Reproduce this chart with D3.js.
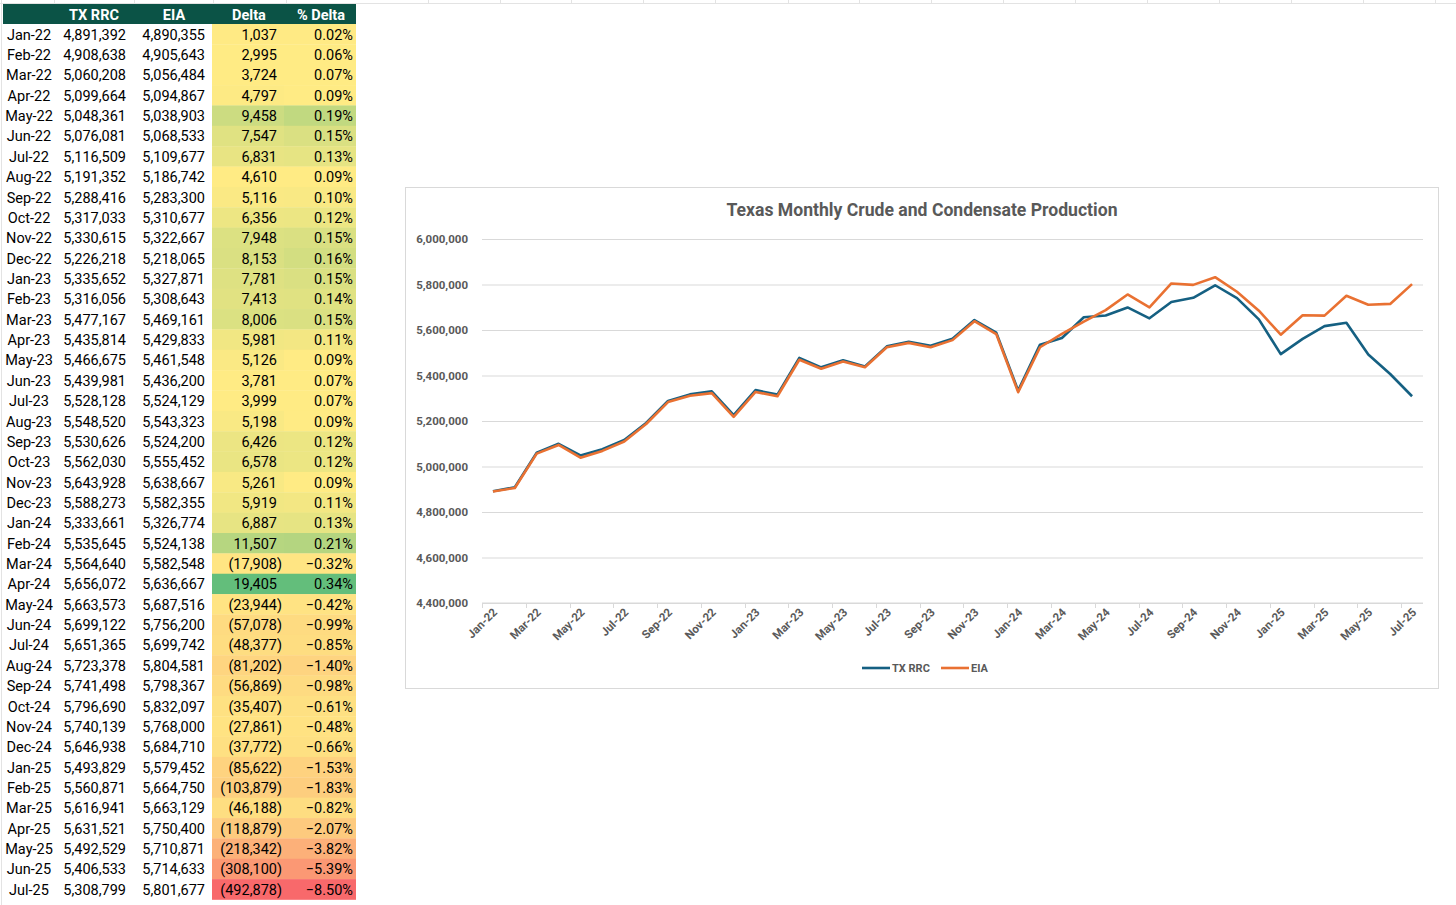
<!DOCTYPE html>
<html lang="en">
  <head>
    <meta charset="UTF-8" />
    <title>Texas Monthly Crude and Condensate Production</title>
    <script src="https://d3js.org/d3.v7.min.js"></script>
    <style>
      body { margin: 0; background: #fff; }
      svg { display: block; font-family: Roboto, "Liberation Sans", sans-serif; }
    </style>
  </head>
  <body>
    <svg id="sheet" width="1456" height="905"></svg>

    <script>
      const months = [
        "Jan-22","Feb-22","Mar-22","Apr-22","May-22","Jun-22","Jul-22","Aug-22","Sep-22","Oct-22","Nov-22","Dec-22",
        "Jan-23","Feb-23","Mar-23","Apr-23","May-23","Jun-23","Jul-23","Aug-23","Sep-23","Oct-23","Nov-23","Dec-23",
        "Jan-24","Feb-24","Mar-24","Apr-24","May-24","Jun-24","Jul-24","Aug-24","Sep-24","Oct-24","Nov-24","Dec-24",
        "Jan-25","Feb-25","Mar-25","Apr-25","May-25","Jun-25","Jul-25"
      ];
      const txRrc = [
        4891392, 4908638, 5060208, 5099664, 5048361, 5076081, 5116509, 5191352, 5288416, 5317033, 5330615, 5226218,
        5335652, 5316056, 5477167, 5435814, 5466675, 5439981, 5528128, 5548520, 5530626, 5562030, 5643928, 5588273,
        5333661, 5535645, 5564640, 5656072, 5663573, 5699122, 5651365, 5723378, 5741498, 5796690, 5740139, 5646938,
        5493829, 5560871, 5616941, 5631521, 5492529, 5406533, 5308799
      ];
      const eia = [
        4890355, 4905643, 5056484, 5094867, 5038903, 5068533, 5109677, 5186742, 5283300, 5310677, 5322667, 5218065,
        5327871, 5308643, 5469161, 5429833, 5461548, 5436200, 5524129, 5543323, 5524200, 5555452, 5638667, 5582355,
        5326774, 5524138, 5582548, 5636667, 5687516, 5756200, 5699742, 5804581, 5798367, 5832097, 5768000, 5684710,
        5579452, 5664750, 5663129, 5750400, 5710871, 5714633, 5801677
      ];
      const delta = [
        1037, 2995, 3724, 4797, 9458, 7547, 6831, 4610, 5116, 6356, 7948, 8153,
        7781, 7413, 8006, 5981, 5126, 3781, 3999, 5198, 6426, 6578, 5261, 5919,
        6887, 11507, -17908, 19405, -23944, -57078, -48377, -81202, -56869, -35407, -27861, -37772,
        -85622, -103879, -46188, -118879, -218342, -308100, -492878
      ];
      const pctDelta = [
        0.02, 0.06, 0.07, 0.09, 0.19, 0.15, 0.13, 0.09, 0.10, 0.12, 0.15, 0.16,
        0.15, 0.14, 0.15, 0.11, 0.09, 0.07, 0.07, 0.09, 0.12, 0.12, 0.09, 0.11,
        0.13, 0.21, -0.32, 0.34, -0.42, -0.99, -0.85, -1.40, -0.98, -0.61, -0.48, -0.66,
        -1.53, -1.83, -0.82, -2.07, -3.82, -5.39, -8.50
      ];
      const headers = ["", "TX RRC", "EIA", "Delta", "% Delta"];
      const seriesNames = ["TX RRC", "EIA"];
      const yTicks = [4400000, 4600000, 4800000, 5000000, 5200000, 5400000, 5600000, 5800000, 6000000];

      const svg = d3.select("#sheet");
      const fmt = d3.format(",");

      // faint sheet gridlines peeking at the top
      const sheetCols = [54, 134, 213, 286, 428, 500, 571, 643, 715, 788, 859, 931, 1003, 1075, 1147, 1219, 1291, 1363, 1435];
      svg.append("line").attr("x1", 0).attr("x2", 1456).attr("y1", 3.5).attr("y2", 3.5)
        .attr("stroke", "#e3e3e3");
      svg.selectAll(".sheetcol").data(sheetCols).enter().append("line")
        .attr("x1", (d) => d + 0.5).attr("x2", (d) => d + 0.5)
        .attr("y1", 0).attr("y2", 4).attr("stroke", "#e3e3e3");
      svg.append("line").attr("x1", 1.5).attr("x2", 1.5).attr("y1", 0).attr("y2", 905)
        .attr("stroke", "#e3e3e3");

      // ---------- table ----------
      const rowY = d3.scaleBand().domain(months).range([24, 899.5]);
      const rows = months.map((m, i) => ({ m, rrc: txRrc[i], eia: eia[i], d: delta[i], p: pctDelta[i] }));

      const excelScale = (vals) =>
        d3.scaleLinear()
          .domain([d3.min(vals), d3.median(vals), d3.max(vals)])
          .range(["#F8696B", "#FFEB84", "#63BE7B"]);
      const dColor = excelScale(delta);
      const pColor = excelScale(pctDelta);

      svg.append("rect").attr("x", 3).attr("y", 4).attr("width", 353).attr("height", 20)
        .attr("fill", "#0B5346");

      const headerX = [29, 94, 174, 249, 321];
      svg.selectAll(".hdr").data(headers).enter().append("text")
        .attr("x", (d, i) => headerX[i]).attr("y", 19.5)
        .attr("text-anchor", "middle").attr("fill", "#fff")
        .attr("font-size", 14.5).attr("font-weight", 700)
        .text((d) => d);

      const tr = svg.selectAll(".row").data(rows).enter().append("g")
        .attr("transform", (d) => `translate(0,${rowY(d.m)})`);

      tr.append("rect").attr("x", 212).attr("width", 72).attr("height", rowY.bandwidth() + 0.3)
        .attr("fill", (d) => dColor(d.d));
      tr.append("rect").attr("x", 284).attr("width", 72).attr("height", rowY.bandwidth() + 0.3)
        .attr("fill", (d) => pColor(d.p));

      const ty = rowY.bandwidth() / 2 + 5.5;
      tr.append("text").attr("x", 29).attr("y", ty).attr("text-anchor", "middle")
        .text((d) => d.m);
      tr.append("text").attr("x", 126).attr("y", ty).attr("text-anchor", "end")
        .text((d) => fmt(d.rrc));
      tr.append("text").attr("x", 205).attr("y", ty).attr("text-anchor", "end")
        .text((d) => fmt(d.eia));
      tr.append("text").attr("x", (d) => (d.d < 0 ? 282 : 277)).attr("y", ty).attr("text-anchor", "end")
        .text((d) => (d.d < 0 ? `(${fmt(-d.d)})` : fmt(d.d)));
      tr.append("text").attr("x", 353).attr("y", ty).attr("text-anchor", "end")
        .text((d) => d3.format(".2f")(d.p) + "%");
      tr.selectAll("text").attr("font-size", 14.5).attr("fill", "#000");

      // ---------- chart ----------
      svg.append("rect").attr("x", 405.5).attr("y", 187.5).attr("width", 1033).attr("height", 501)
        .attr("fill", "#fff").attr("stroke", "#d9d9d9");

      svg.append("text").attr("x", 922).attr("y", 216).attr("text-anchor", "middle")
        .attr("font-size", 17.6).attr("font-weight", 700).attr("fill", "#595959")
        .text("Texas Monthly Crude and Condensate Production");

      const x = d3.scaleBand().domain(months).range([482, 1423]);
      const y = d3.scaleLinear().domain([4400000, 6000000]).range([603, 239]);

      // gridlines + y labels
      const yAxis = svg.append("g").attr("transform", "translate(482,0)")
        .call(d3.axisLeft(y).tickValues(yTicks).tickSize(-941).tickFormat(fmt));
      yAxis.select(".domain").remove();
      yAxis.selectAll(".tick line").attr("stroke", "#d9d9d9");
      yAxis.selectAll(".tick text").attr("x", -14).attr("font-size", 11.5).attr("font-weight", 700)
        .attr("fill", "#595959").attr("font-family", "Roboto, sans-serif");

      // x axis: ticks at category boundaries, labels every other month
      const xAxis = svg.append("g").attr("transform", "translate(0,603)");
      xAxis.append("line").attr("x1", 482).attr("x2", 1423).attr("stroke", "#d9d9d9");
      const shown = months.filter((m, i) => i % 2 === 0);
      xAxis.selectAll(".xt").data(shown).enter().append("line")
        .attr("x1", (d) => Math.round(x(d)) + 0.5).attr("x2", (d) => Math.round(x(d)) + 0.5)
        .attr("y1", 0).attr("y2", 5).attr("stroke", "#d9d9d9");
      xAxis.selectAll(".xl").data(shown).enter().append("text")
        .attr("transform", (d) => `translate(${x(d) + x.bandwidth() / 2 + 5},10) rotate(-45)`)
        .attr("text-anchor", "end").attr("font-size", 11.5).attr("font-weight", 700)
        .attr("fill", "#595959").text((d) => d);

      const colors = d3.scaleOrdinal().domain(seriesNames).range(["#156082", "#E97132"]);
      const line = d3.line()
        .x((d, i) => x(months[i]) + x.bandwidth() / 2)
        .y((d) => y(d));
      [txRrc, eia].forEach((vals, k) => {
        svg.append("path").datum(vals)
          .attr("fill", "none")
          .attr("stroke", colors(seriesNames[k]))
          .attr("stroke-width", 2.6)
          .attr("stroke-linejoin", "round")
          .attr("d", line);
      });

      // legend
      const legendX = [862, 941];
      const lg = svg.selectAll(".lg").data(seriesNames).enter().append("g")
        .attr("transform", (d, i) => `translate(${legendX[i]},668)`);
      lg.append("line").attr("x1", 0).attr("x2", 28).attr("stroke-width", 2.6)
        .attr("stroke", (d) => colors(d));
      lg.append("text").attr("x", 30).attr("y", 4).attr("font-size", 11).attr("font-weight", 700)
        .attr("fill", "#595959").text((d) => d);
    </script>
  </body>
</html>
